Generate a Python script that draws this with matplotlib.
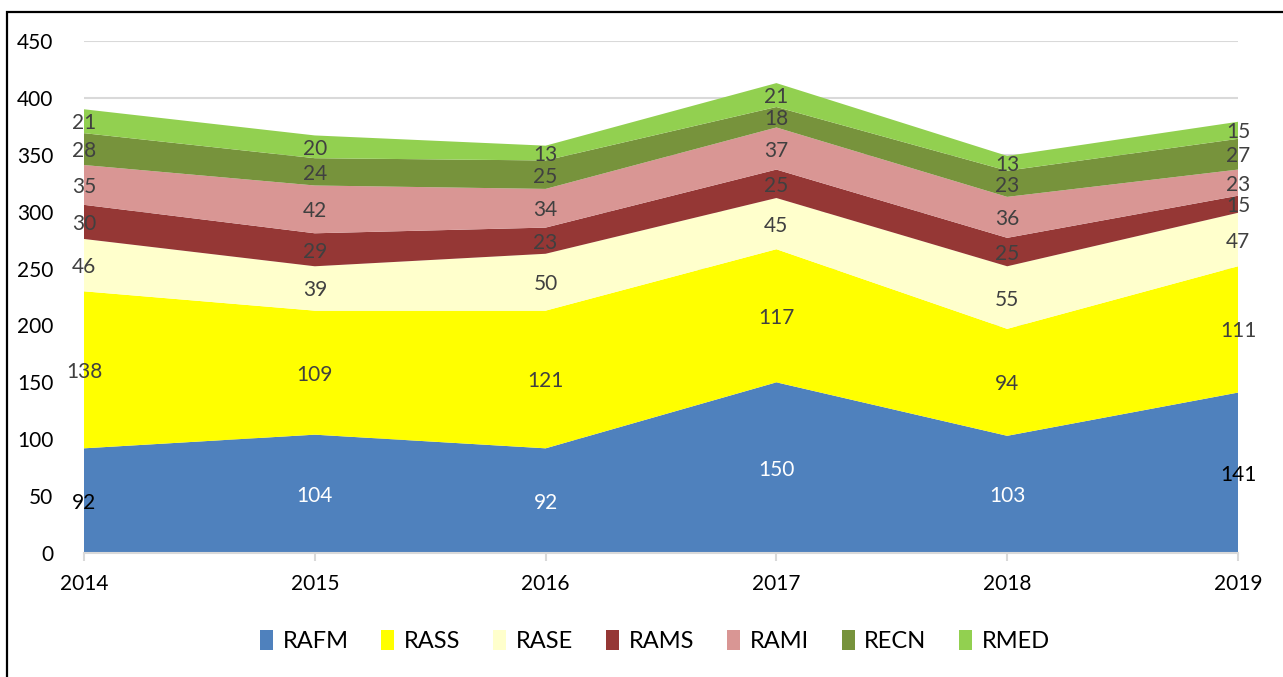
import numpy as np
import matplotlib.pyplot as plt
from matplotlib.patches import Patch, Rectangle

plt.rcParams['font.family'] = ['Lato', 'DejaVu Sans']

years = ['2014', '2015', '2016', '2017', '2018', '2019']
series_names = ['RAFM', 'RASS', 'RASE', 'RAMS', 'RAMI', 'RECN', 'RMED']

rafm = [92, 104, 92, 150, 103, 141]
rass = [138, 109, 121, 117, 94, 111]
rase = [46, 39, 50, 45, 55, 47]
rams = [30, 29, 23, 25, 25, 15]
rami = [35, 42, 34, 37, 36, 23]
recn = [28, 24, 25, 18, 23, 27]
rmed = [21, 20, 13, 21, 13, 15]

colors = ['#4f81bd', '#ffff00', '#ffffcc', '#953735', '#d99694', '#77933c', '#92d050']


def main():
    data = np.array([rafm, rass, rase, rams, rami, recn, rmed], dtype=float)
    x = np.arange(len(years))

    fig = plt.figure(figsize=(12.83, 6.77), dpi=100)
    ax = fig.add_axes([84/1283, 1-553/677, (1238-84)/1283, (553-41)/677])

    ax.stackplot(x, data, colors=colors, zorder=2, linewidth=0)

    # data labels centred in each band
    bottom = np.zeros(len(years))
    for i, row in enumerate(data):
        for j, v in enumerate(row):
            c = '#404040'
            if i == 0:
                c = 'black' if j in (0, len(years)-1) else 'white'
            ax.text(x[j], bottom[j] + v/2, '%d' % v, ha='center', va='center_baseline',
                    fontsize=15, color=c, zorder=5)
        bottom += row

    ax.set_xlim(0, len(years)-1)
    ax.set_ylim(0, 450)
    ax.set_yticks(np.arange(0, 451, 50))
    ax.set_xticks(x)
    ax.set_xticklabels(years)
    ax.grid(axis='y', color='#d9d9d9', linewidth=1.5, zorder=0)
    ax.set_axisbelow(True)
    for s in ['top', 'right', 'left']:
        ax.spines[s].set_visible(False)
    ax.spines['bottom'].set_color('#d9d9d9')
    ax.spines['bottom'].set_linewidth(1.5)
    ax.tick_params(axis='y', length=0, labelsize=15, pad=22)
    ax.tick_params(axis='x', length=6, color='#d9d9d9', width=1.5, labelsize=15, pad=9)

    handles = [Patch(facecolor=c, edgecolor='none') for c in colors]
    fig.legend(handles, series_names, loc='center', bbox_to_anchor=(655/1283, 1-641/677),
               ncol=7, frameon=False, fontsize=17, handlelength=0.55, handleheight=0.9,
               columnspacing=1.4, handletextpad=0.4)

    # outer border, cut off at the right and bottom as in the original
    fig.patches.append(Rectangle((7/1283, -0.1), 1.2, 1-12/677+0.1, transform=fig.transFigure,
                                 fill=False, edgecolor='black', linewidth=1.6))

    fig.savefig('out.png', dpi=100)


if __name__ == "__main__":
    main()
